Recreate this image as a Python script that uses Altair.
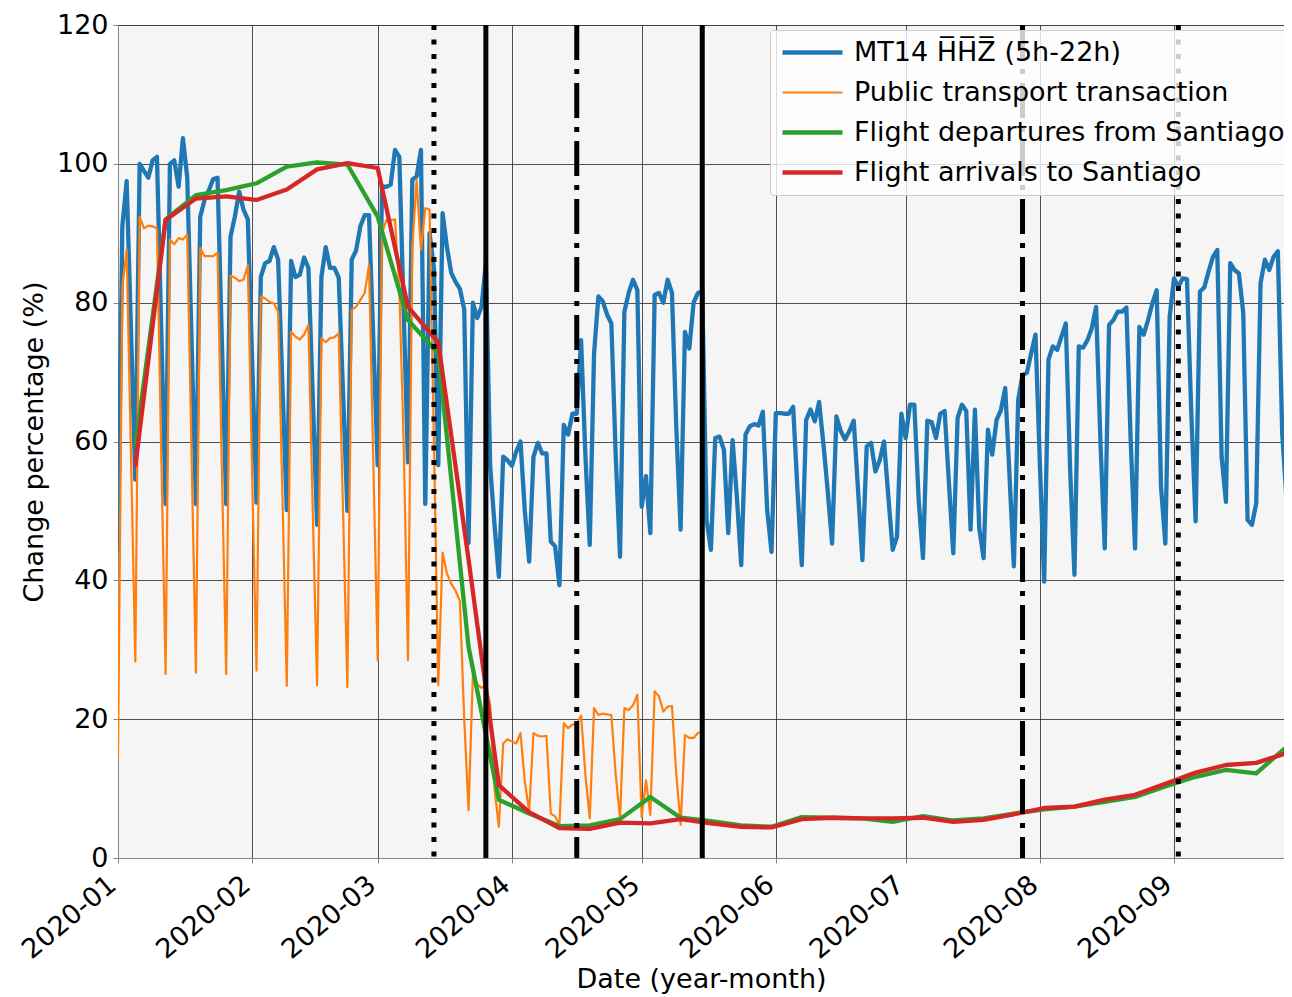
import altair as alt
import pandas as pd

# ---------------- data ----------------
SERIES = ["MT14 H\u0305H\u0305Z\u0305 (5h-22h)", "Public transport transaction",
          "Flight departures from Santiago", "Flight arrivals to Santiago"]
COLORS = ["#1f77b4", "#ff7f0e", "#2ca02c", "#d62728"]
WIDTHS = [4.3, 2.2, 4.3, 4.3]

# MT14 HHZ daily change (%) 2020-01-01 .. 2020-09-28
mt14_jan = [44, 91, 97.5, 76, 54.5, 100, 99, 98, 100.5, 101, 76, 51, 100, 100.5, 96.7, 103.7, 98, 74.5, 51,
            92.4, 94.8, 96.2, 97.8, 98, 74.5, 51, 89.5, 92.4, 96, 93.4, 92]
mt14_feb = [71.6, 51.2, 83.7, 85.7, 86, 88, 86.2, 68, 50.1, 86, 83.7, 84, 86.5, 85, 66.5, 48, 83.7, 88, 85, 85,
            83.6, 67, 50, 86.2, 87.5, 91, 92.6, 92.6, 74.6]
mt14_mar = [56.6, 96.7, 96.7, 97, 102, 101, 79, 57, 97.7, 98.2, 102, 51, 90, 85, 56.6, 92.9, 88, 84.3, 83, 82,
            79, 45.4, 80, 77.8, 79.4, 85.7, 56.4, 48, 40.5, 57.8, 57.3]
mt14_apr = [56.5, 58.5, 60, 50, 42.7, 57.8, 59.8, 58.3, 58.3, 45.6, 44.9, 39.3, 62.4, 61, 64, 64, 74.6, 58, 45.1,
            72.7, 80.9, 80.2, 78.3, 77, 58, 43.4, 78.7, 81.4, 83.3, 81.8]
mt14_may = [50.6, 55, 46.8, 81.1, 81.4, 80, 83.3, 81.4, 62, 47.3, 75.8, 73.4, 80, 81.4, 81.6, 48.7, 44.4, 60.5,
            60.7, 58.8, 46.8, 60.2, 52, 42.2, 61, 62.2, 62.5, 62.3, 64.3, 50.1, 44.1]
mt14_jun = [64.1, 64.1, 64, 64, 65, 53, 42.2, 63.1, 64.6, 62.9, 65.7, 59.6, 52.8, 45.3, 63.6, 61.5, 60.3, 61.5,
            63, 53, 42.9, 59.3, 59.8, 55.7, 57.3, 60, 52, 44.4, 46.3, 64]
mt14_jul = [60.5, 65.3, 65.3, 51.6, 43.2, 63, 62.8, 60.5, 64, 64.4, 54, 43.9, 63.4, 65.3, 64.4, 47.3, 64.6, 47.5,
            43.2, 61.7, 58.1, 63.1, 64.5, 67.7, 55, 42, 66, 69.6, 69.9, 72.7, 75.4]
mt14_aug = [57, 39.8, 71.8, 73.7, 73.2, 75.1, 77, 56, 40.8, 73.7, 73.5, 74.6, 76.3, 79.4, 60, 44.6, 76.8, 77.5,
            78.7, 78.7, 79.3, 60, 44.6, 76.5, 75.4, 77.5, 79.9, 81.8, 53.5, 45.3, 78]
mt14_sep = [83.5, 82.3, 83.5, 83.4, 64, 48.5, 81.6, 82.2, 84.5, 86.6, 87.6, 57.8, 51.3, 85.7, 84.7, 84.2, 78.5,
            48.7, 48, 51.1, 82.8, 86.2, 84.7, 86.6, 87.4, 61.2, 51.6, 85.2]

# Public transport transactions, daily 2020-01-01 .. 2020-05-15
pt_jan = [14.6, 82.3, 87.6, 58, 28.3, 92.4, 90.7, 91.1, 91, 90.7, 58, 26.5, 89.1, 88.4, 89.3, 89.1, 89.8, 58,
          26.7, 87.9, 86.7, 86.7, 86.7, 87.2, 56, 26.5, 83.9, 83.6, 83.1, 83.3, 85.4]
pt_feb = [55, 27, 80.9, 80.6, 80.1, 79.9, 78.7, 52, 24.8, 75.8, 75.1, 74.7, 75.4, 76.8, 50, 24.9, 74.9, 74.3,
          74.9, 75, 75.6, 50, 24.6, 79, 79.4, 80.4, 81.4, 85.4, 57]
pt_mar = [28.5, 90, 91.9, 91.9, 92, 82, 60, 28.5, 88, 97.7, 87.6, 93.6, 93.4, 60, 24.9, 44, 41, 39.5, 38.5, 37,
          20, 6.9, 26.4, 25, 24.5, 25, 22, 10, 4.5, 16.5, 17.1]
pt_apr = [16.8, 16.5, 18, 11, 6.7, 18, 17.6, 17.5, 17.6, 6.4, 6, 4.8, 19.4, 18.7, 19.2, 19.4, 20.5, 12, 5.7,
          21.6, 20.6, 20.8, 20.7, 20.6, 12, 5.7, 21.6, 21.3, 22, 23.5]
pt_may = [5.9, 11.2, 6.2, 24, 23.3, 21.1, 21.8, 21.9, 12, 4.8, 17.7, 17.3, 17.3, 18, 18.2]

# Weekly flights (Sundays 2020-01-05 .. 2020-09-27)
departures = [59.3, 92, 95.5, 96.2, 97.2, 99.6, 100.2, 99.9, 92.4, 77.5, 72.7, 30.4, 8.4, 6.4, 4.6, 4.7, 5.6,
              8.8, 5.8, 5.3, 4.7, 4.5, 5.9, 5.8, 5.7, 5.2, 6.05, 5.4, 5.7, 6.4, 7.0, 7.4, 8.1, 8.8, 10.3, 11.7,
              12.7, 12.2, 16.0]
arrivals = [56.4, 91.9, 95.0, 95.3, 94.8, 96.3, 99.2, 100.1, 99.4, 79.4, 74.3, 43, 10.5, 6.6, 4.3, 4.2, 5.1,
            5.0, 5.6, 5.0, 4.5, 4.4, 5.6, 5.8, 5.7, 5.7, 5.8, 5.2, 5.5, 6.3, 7.2, 7.4, 8.4, 9.1, 10.7, 12.3,
            13.4, 13.7, 15.1]

# Event dates (vertical lines)
dotted_dates = ["2020-03-14", "2020-09-02"]
solid_dates = ["2020-03-26", "2020-05-15"]
dashdot_dates = ["2020-04-16", "2020-07-28"]

month_ticks = [1, 2, 3, 4, 5, 6, 7, 8, 9]

# ---------------- tables ----------------
mt14 = mt14_jan + mt14_feb + mt14_mar + mt14_apr + mt14_may + mt14_jun + mt14_jul + mt14_aug + mt14_sep
pt = pt_jan + pt_feb + pt_mar + pt_apr + pt_may


def daily(start, vals, name):
    d = pd.date_range(start, periods=len(vals), freq="D").strftime("%Y-%m-%d")
    return pd.DataFrame({"date": d, "value": vals, "series": name})


def weekly(start, vals, name):
    d = pd.date_range(start, periods=len(vals), freq="7D").strftime("%Y-%m-%d")
    return pd.DataFrame({"date": d, "value": vals, "series": name})


df_mt = daily("2020-01-01", mt14, SERIES[0])
df_pt = daily("2020-01-01", pt, SERIES[1])
df_dep = weekly("2020-01-05", departures, SERIES[2])
df_arr = weekly("2020-01-05", arrivals, SERIES[3])

FONT = "DejaVu Sans"

xscale = alt.Scale(type="utc",
                   domain=[alt.DateTime(year=2020, month=1, date=1, utc=True),
                           alt.DateTime(year=2020, month=9, date=26, hours=10, utc=True)])
yscale = alt.Scale(domain=[0, 120], nice=False, zero=False)

xaxis = alt.Axis(values=[alt.DateTime(year=2020, month=m, date=1, utc=True) for m in month_ticks],
                 labelExpr="utcFormat(datum.value, '%Y-%m')",
                 labelAngle=-40, labelAlign="right", labelBaseline="top", labelPadding=8,
                 labelOffset=-14, title="Date (year-month)", titlePadding=3)
yaxis = alt.Axis(values=[0, 20, 40, 60, 80, 100, 120], title="Change percentage (%)",
                 labelPadding=5, titlePadding=8)

legend = alt.Legend(title=None, orient="none", legendX=652, legendY=5,
                    symbolType="M-1,0H5", symbolSize=400, labelFontSize=27, labelFont=FONT,
                    labelColor="black", labelLimit=1000, labelOffset=48, rowPadding=12,
                    fillColor="rgba(255,255,255,0.8)", strokeColor="#cccccc", padding=9,
                    cornerRadius=4)

color = alt.Color("series:N", scale=alt.Scale(domain=SERIES, range=COLORS), legend=legend)
swidth = alt.StrokeWidth("series:N", scale=alt.Scale(type="ordinal", domain=SERIES, range=WIDTHS),
                         legend=legend)


def line_layer(df, with_axes=False):
    enc = dict(
        x=alt.X("date:T", scale=xscale, axis=xaxis if with_axes else alt.Axis(title="Date (year-month)")),
        y=alt.Y("value:Q", scale=yscale, axis=yaxis if with_axes else alt.Axis(title="Change percentage (%)")),
        color=color,
        strokeWidth=swidth,
    )
    return alt.Chart(df).mark_line(strokeJoin="round", clip=True).encode(**enc)


def vline(dates, dash):
    kw = dict(color="black", strokeWidth=5, strokeCap="butt")
    if dash:
        kw["strokeDash"] = dash
    return alt.Chart(pd.DataFrame({"date": dates})).mark_rule(**kw).encode(x=alt.X("date:T"))


chart = alt.layer(
    line_layer(df_mt, with_axes=True),
    line_layer(df_pt),
    line_layer(df_dep),
    line_layer(df_arr),
    vline(dotted_dates, [5, 9.5]),
    vline(solid_dates, None),
    vline(dashdot_dates, [35, 9, 5, 9]),
).properties(
    width=1166, height=833,
    autosize=alt.AutoSizeParams(type="none"),
    padding={"left": 110, "top": 17, "right": 0, "bottom": 139},
).configure_view(
    fill="#f5f5f5", stroke="#999999", strokeWidth=1
).configure_axis(
    labelFont=FONT, titleFont=FONT, labelFontSize=27, titleFontSize=27, titleFontWeight="normal",
    labelColor="black", titleColor="black", gridColor="#333333", gridWidth=1, gridOpacity=0.85,
    domainColor="#888888", tickColor="#888888", tickSize=5, labelOverlap=False
)

chart.save("out.html", embed_options={"renderer": "svg", "actions": False})
